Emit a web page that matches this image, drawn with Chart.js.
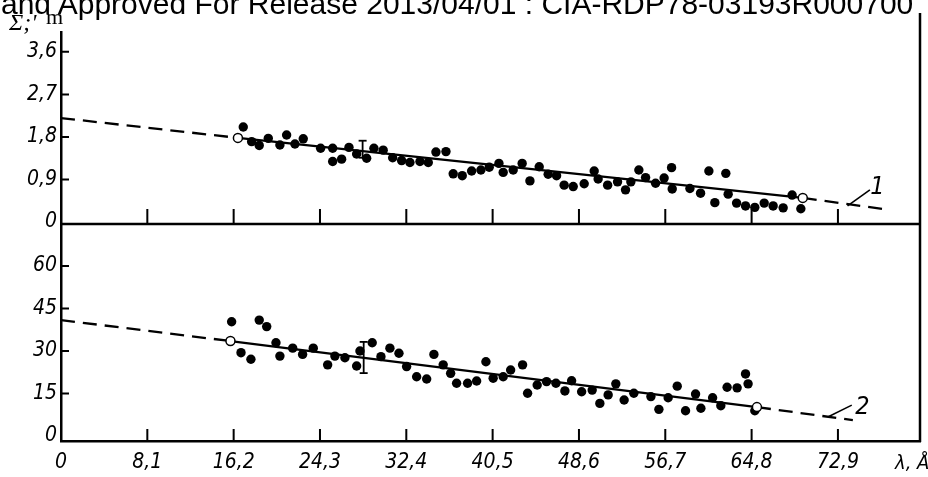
<!DOCTYPE html>
<html>
<head>
<meta charset="utf-8">
<script src="https://cdn.jsdelivr.net/npm/chart.js@4"></script>
<style>
  body { margin: 0; background: #fff; }
  #wrap { position: relative; width: 928px; height: 477px; overflow: hidden; }
  #header {
    position: absolute; left: 1px; top: -13px; white-space: nowrap;
    font: 30px "Liberation Sans", Arial, sans-serif; color: #000;
  }
  canvas { position: absolute; left: 0; top: 0; }
</style>
</head>
<body>
<div id="wrap">
  <canvas id="grafico" width="928" height="477"></canvas>
  <div id="header">and Approved For Release 2013/04/01 : CIA-RDP78-03193R000700</div>
</div>
<script>
// wavelength ticks (Å)
const xTicks = [0, 8.1, 16.2, 24.3, 32.4, 40.5, 48.6, 56.7, 64.8, 72.9];
const topTicks = [0, 0.9, 1.8, 2.7, 3.6];
const botTicks = [0, 15, 30, 45, 60];

// panel 1 points
const topX = [17.1, 17.89, 18.6, 19.45, 20.54, 21.17, 21.95, 22.73, 24.36, 25.49, 25.49, 26.33, 27.02, 27.74, 28.68, 29.36, 30.23, 31.12, 31.96, 32.74, 33.68, 34.46, 35.18, 36.12, 36.8, 37.65, 38.53, 39.4, 40.18, 41.09, 41.49, 42.43, 43.27, 44.0, 44.87, 45.71, 46.5, 47.21, 48.06, 49.09, 50.03, 50.4, 51.29, 52.22, 52.97, 53.47, 54.22, 54.85, 55.79, 56.59, 57.29, 57.35, 59.01, 60.01, 60.79, 61.35, 62.38, 62.6, 63.39, 64.23, 65.1, 65.98, 66.82, 67.76, 68.6, 69.42];
const topY = [2.01, 1.70, 1.62, 1.77, 1.63, 1.84, 1.65, 1.76, 1.56, 1.56, 1.28, 1.33, 1.58, 1.44, 1.35, 1.56, 1.52, 1.36, 1.30, 1.26, 1.28, 1.26, 1.48, 1.49, 1.02, 0.98, 1.08, 1.10, 1.16, 1.24, 1.05, 1.10, 1.24, 0.87, 1.17, 1.01, 0.98, 0.78, 0.75, 0.81, 1.08, 0.91, 0.78, 0.85, 0.68, 0.85, 1.10, 0.94, 0.82, 0.93, 1.15, 0.70, 0.71, 0.61, 1.08, 0.41, 1.03, 0.59, 0.40, 0.34, 0.31, 0.40, 0.34, 0.30, 0.57, 0.28];

// panel 2 points
const botX = [16.01, 18.6, 19.3, 16.89, 17.82, 20.17, 20.54, 21.74, 22.67, 23.67, 25.02, 25.7, 26.64, 27.74, 28.05, 29.2, 30.02, 30.86, 31.71, 32.43, 33.37, 34.31, 34.99, 35.86, 36.56, 37.12, 38.15, 39.0, 39.87, 40.55, 41.49, 42.19, 43.31, 43.78, 44.68, 45.56, 46.44, 47.28, 47.91, 48.85, 49.84, 50.56, 51.34, 52.06, 52.84, 53.75, 55.35, 56.1, 56.97, 57.82, 58.6, 59.54, 60.04, 61.14, 61.91, 62.5, 63.44, 64.23, 64.47, 65.1];
const botY = [40.3, 40.9, 38.6, 29.4, 27.1, 32.9, 28.2, 31.0, 28.8, 31.0, 25.1, 28.2, 27.6, 24.7, 30.0, 32.9, 28.0, 31.0, 29.2, 24.5, 20.9, 20.1, 28.8, 25.1, 22.1, 18.6, 18.6, 19.4, 26.2, 20.4, 20.9, 23.3, 25.1, 15.1, 18.0, 19.2, 18.6, 15.9, 19.5, 15.6, 16.2, 11.5, 14.5, 18.4, 12.7, 15.1, 13.9, 9.4, 13.5, 17.6, 8.9, 14.8, 9.8, 13.5, 10.7, 17.2, 17.0, 21.9, 18.4, 8.9];

// fitted lines: dashed - solid - dashed, open circles at the inner ends
const fit1X = [0, 16.6, 69.6, 77.6];
const fit1Y = [2.2, 1.78, 0.51, 0.26];
const fit2X = [0, 15.9, 65.3, 74.3];
const fit2Y = [40.9, 33.5, 10.2, 5.6];

// error bars [x, low, high]
const err1 = [28.3, 1.36, 1.72];
const err2 = [28.4, 22.2, 33.2];

// curve labels and leader lines
const lead1X = [73.8, 75.9];
const lead1Y = [0.34, 0.68];
const lead2X = [71.95, 74.2];
const lead2Y = [6.7, 10.9];
const curveLabels = [
  { text: "1", x: 76.6, y: 0.74, axis: "yTop" },
  { text: "2", x: 75.2, y: 10.2, axis: "yBot" },
];

const pts = (xs, ys) => xs.map((x, i) => ({ x: x, y: ys[i] }));
const tickFont = { family: "'DejaVu Sans Condensed', sans-serif", size: 21, style: "italic" };

function fitDataset(xs, ys, axis) {
  return {
    type: "line",
    data: pts(xs, ys),
    yAxisID: axis,
    borderColor: "#000",
    borderWidth: 2.3,
    pointRadius: [0, 4.5, 4.5, 0],
    pointBackgroundColor: "#fff",
    pointBorderColor: "#000",
    pointBorderWidth: 1.5,
    segment: {
      borderDash: (c) => (c.p0DataIndex === 1 ? undefined : [14, 8]),
    },
  };
}

function errDataset(e, axis) {
  return {
    type: "line",
    data: [{ x: e[0], y: e[1] }, { x: e[0], y: e[2] }],
    yAxisID: axis,
    borderColor: "#000",
    borderWidth: 1.8,
    pointStyle: "line",
    pointRadius: 4,
    pointBorderColor: "#000",
    pointBorderWidth: 1.8,
  };
}

function leadDataset(xs, ys, axis) {
  return {
    type: "line",
    data: pts(xs, ys),
    yAxisID: axis,
    borderColor: "#000",
    borderWidth: 1.6,
    pointRadius: 0,
  };
}

function dotDataset(xs, ys, axis) {
  return {
    type: "scatter",
    data: pts(xs, ys),
    yAxisID: axis,
    pointRadius: 4.7,
    pointBackgroundColor: "#000",
    pointBorderColor: "#000",
    pointBorderWidth: 0,
  };
}

const yScale = (min, max, ticks, weight) => ({
  type: "linear",
  position: "left",
  stack: "panels",
  stackWeight: weight,
  min: min,
  max: max,
  afterBuildTicks: (s) => { s.ticks = ticks.map((v) => ({ value: v })); },
  afterFit: (s) => { s.width = 61; },
  grid: { display: false, drawTicks: false },
  border: { display: true, color: "#000", width: 2.5 },
  ticks: {
    color: "#000",
    font: tickFont,
    padding: 4,
    autoSkip: false,
    callback: (v) => String(v).replace(".", ","),
  },
});

// inward tick marks, panel frame and text labels
const extras = {
  id: "extras",
  afterDraw(chart) {
    const ctx = chart.ctx;
    const x = chart.scales.x, yT = chart.scales.yTop, yB = chart.scales.yBot;
    const area = chart.chartArea;
    ctx.save();
    ctx.strokeStyle = "#000";
    ctx.lineWidth = 2;
    ctx.beginPath();
    [yT, yB].forEach((s) => {
      s.ticks.forEach((t) => {
        if (t.value === 0) return;
        const py = s.getPixelForValue(t.value);
        ctx.moveTo(area.left, py);
        ctx.lineTo(area.left + 8, py);
      });
    });
    xTicks.forEach((v) => {
      if (v === 0) return;
      const px = x.getPixelForValue(v);
      ctx.moveTo(px, yT.bottom);
      ctx.lineTo(px, yT.bottom - 15);
      ctx.moveTo(px, area.bottom);
      ctx.lineTo(px, area.bottom - 12);
    });
    ctx.stroke();

    ctx.lineWidth = 2.5;
    ctx.beginPath();
    ctx.moveTo(area.left, yT.bottom);
    ctx.lineTo(area.right, yT.bottom);
    ctx.moveTo(area.right, 13);
    ctx.lineTo(area.right, area.bottom + 1);
    ctx.stroke();

    ctx.fillStyle = "#000";
    ctx.textBaseline = "middle";
    ctx.textAlign = "center";
    ctx.font = "italic 25px 'DejaVu Sans Condensed', sans-serif";
    curveLabels.forEach((l) => {
      ctx.fillText(l.text, x.getPixelForValue(l.x), chart.scales[l.axis].getPixelForValue(l.y));
    });

    ctx.textBaseline = "alphabetic";
    ctx.textAlign = "left";
    ctx.font = "italic 20px 'DejaVu Sans Condensed', sans-serif";
    ctx.fillText("λ, Å", 895, 469);
    ctx.font = "italic 24px 'Liberation Serif', serif";
    ctx.fillText("Σ;'", 9, 30);
    ctx.font = "22px 'Liberation Serif', serif";
    ctx.fillText("m", 46, 24);
    ctx.restore();
  },
};

new Chart(document.getElementById("grafico"), {
  type: "scatter",
  data: {
    datasets: [
      fitDataset(fit1X, fit1Y, "yTop"),
      fitDataset(fit2X, fit2Y, "yBot"),
      errDataset(err1, "yTop"),
      errDataset(err2, "yBot"),
      leadDataset(lead1X, lead1Y, "yTop"),
      leadDataset(lead2X, lead2Y, "yBot"),
      dotDataset(topX, topY, "yTop"),
      dotDataset(botX, botY, "yBot"),
    ],
  },
  options: {
    responsive: false,
    animation: false,
    layout: { padding: { top: 32, right: 8, left: 0, bottom: 0 } },
    plugins: { legend: { display: false }, tooltip: { enabled: false } },
    scales: {
      x: {
        type: "linear",
        min: 0,
        max: 80.6,
        afterBuildTicks: (s) => { s.ticks = xTicks.map((v) => ({ value: v })); },
        afterFit: (s) => { s.height = 36; },
        grid: { display: false, drawTicks: false },
        border: { display: true, color: "#000", width: 2.5 },
        ticks: {
          color: "#000",
          font: tickFont,
          padding: 9,
          maxRotation: 0,
          autoSkip: false,
          callback: (v) => String(v).replace(".", ","),
        },
      },
      yBot: yScale(-1.76, 74.8, botTicks, 217),
      yTop: yScale(-0.042, 4.02, topTicks, 192),
    },
  },
  plugins: [extras],
});
</script>
</body>
</html>
